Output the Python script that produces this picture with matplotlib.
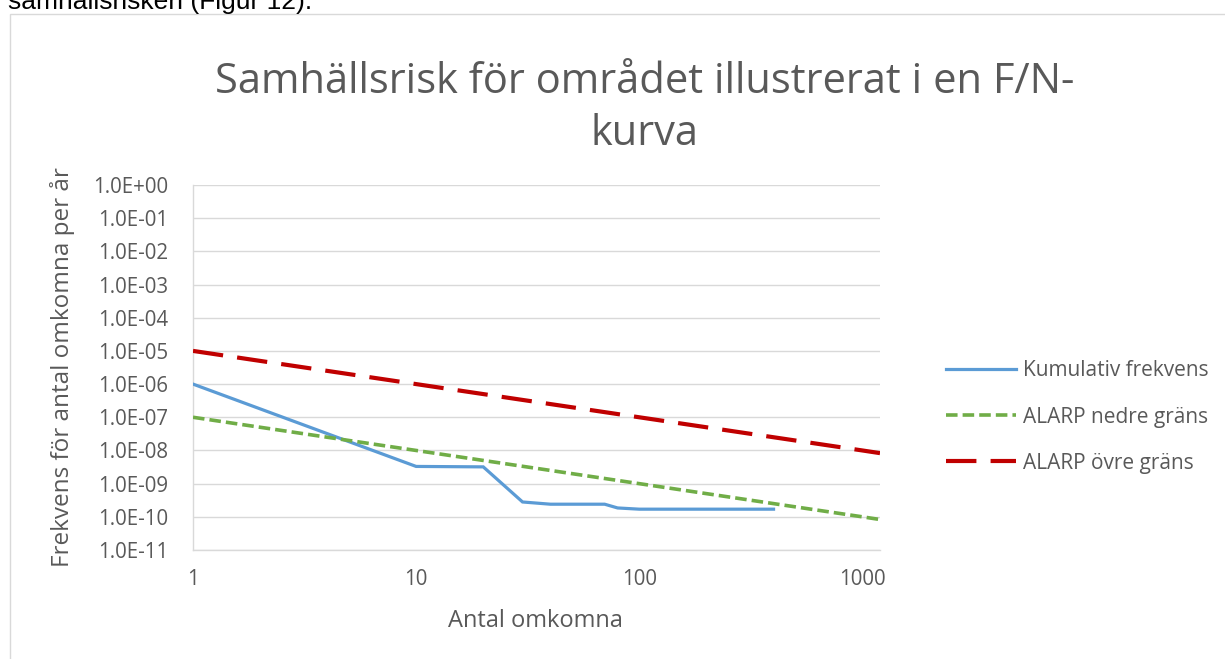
import numpy as np
import matplotlib
matplotlib.use("Agg")
import matplotlib.pyplot as plt
from matplotlib.ticker import FixedLocator, FuncFormatter, NullLocator
from matplotlib.patches import Rectangle

# --- data -------------------------------------------------------------------
n_kum = [1, 10, 20, 30, 40, 70, 80, 100, 400]
f_kum = [1.0e-6, 3.3e-9, 3.2e-9, 2.8e-10, 2.4e-10, 2.4e-10, 1.85e-10, 1.7e-10, 1.7e-10]

n_alarp = [1, 10, 100, 1000, 1200]
f_nedre = [1.0e-7, 1.0e-8, 1.0e-9, 1.0e-10, 8.3e-11]
f_ovre = [1.0e-5, 1.0e-6, 1.0e-7, 1.0e-8, 8.3e-9]

x_ticks = [1, 10, 100, 1000]
y_ticks = [10.0 ** e for e in range(0, -12, -1)]

# --- style ------------------------------------------------------------------
TEXT = "#595959"
GRID = "#D9D9D9"
BLUE = "#5B9BD5"
GREEN = "#70AD47"
RED = "#C00000"

plt.rcParams["font.family"] = ["Open Sans", "DejaVu Sans"]

W, H = 1225, 659
fig = plt.figure(figsize=(W / 100, H / 100), dpi=100)

# chart frame (Excel-style) and the cut-off document text above it
fig.patches.append(Rectangle((10 / W, -0.1), 1.2, 1 - 14 / H + 0.1,
                             transform=fig.transFigure, fill=False,
                             ec=GRID, lw=1.0))
fig.text(8 / W, 1 - 9 / H, "samhällsrisken (Figur 12).", fontsize=19,
         family="Liberation Sans", color="black", va="baseline", ha="left")

ax = fig.add_axes([193 / W, 1 - 550 / H, (880 - 193) / W, (550 - 185) / H])

ax.plot(n_kum, f_kum, color=BLUE, lw=2.3, label="Kumulativ frekvens",
        solid_joinstyle="miter", zorder=3)
ax.plot(n_alarp, f_nedre, color=GREEN, lw=2.6, dashes=(3.2, 1.4),
        dash_capstyle="butt", label="ALARP nedre gräns", zorder=3)
ax.plot(n_alarp, f_ovre, color=RED, lw=3.0, dashes=(7.3, 3.4),
        dash_capstyle="butt", label="ALARP övre gräns", zorder=3)

ax.set_xscale("log")
ax.set_yscale("log")
ax.set_xlim(1, 1200)
ax.set_ylim(1e-11, 1)

ax.xaxis.set_major_locator(FixedLocator(x_ticks))
ax.xaxis.set_minor_locator(NullLocator())
ax.xaxis.set_major_formatter(FuncFormatter(lambda v, p: f"{v:.0f}"))
ax.yaxis.set_major_locator(FixedLocator(y_ticks))
ax.yaxis.set_minor_locator(NullLocator())
ax.yaxis.set_major_formatter(FuncFormatter(lambda v, p: f"{v:.1E}"))

ax.grid(axis="y", color=GRID, lw=1.0)
ax.set_axisbelow(True)
for s in ["top", "right"]:
    ax.spines[s].set_visible(False)
for s in ["left", "bottom"]:
    ax.spines[s].set_color(GRID)
    ax.spines[s].set_linewidth(1.0)
ax.tick_params(length=0, labelsize=14.8, labelcolor=TEXT)
ax.tick_params(axis="x", pad=14)
ax.tick_params(axis="y", pad=18)

ax.set_xlabel("Antal omkomna", fontsize=17, color=TEXT)
ax.set_ylabel("Frekvens för antal omkomna per år", fontsize=17.5, color=TEXT)
ax.xaxis.set_label_coords(0.498, -0.162)
ax.yaxis.set_label_coords(-0.172, 0.5)

fig.text(645 / W, 1 - 145 / H, "Samhällsrisk för området illustrerat i en F/N-\nkurva",
         fontsize=30, color=TEXT, ha="center", va="baseline",
         linespacing=1.3, multialignment="center")

ax.legend(loc="center left", bbox_to_anchor=(927 / W, 1 - 417 / H),
          bbox_transform=fig.transFigure, frameon=False, fontsize=15,
          labelcolor=TEXT, handlelength=3.36, handletextpad=0.34,
          labelspacing=1.2)

fig.savefig("out.png", dpi=100, facecolor="white")
